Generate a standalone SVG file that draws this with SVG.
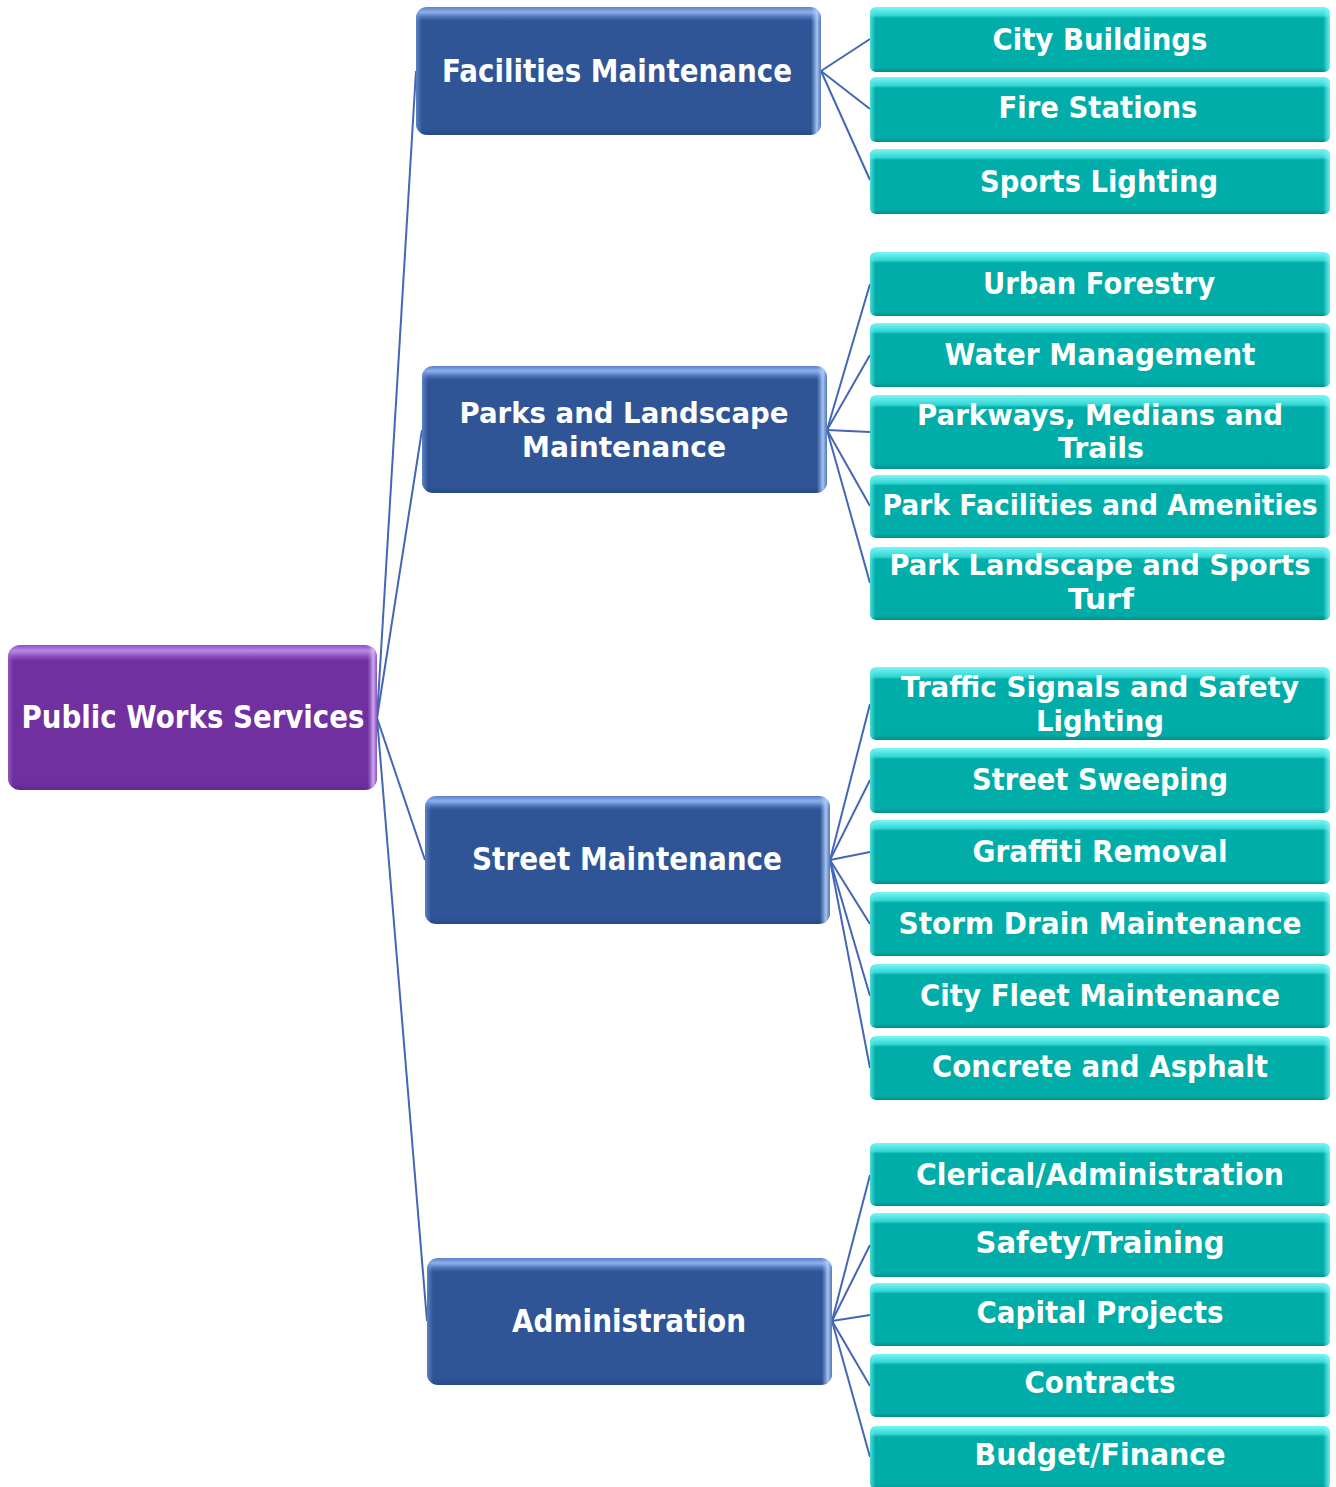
<svg xmlns="http://www.w3.org/2000/svg" width="1336" height="1487" viewBox="0 0 1336 1487">
<defs>
<linearGradient id="gTeal" x1="0" y1="0" x2="0" y2="1">
<stop offset="0" stop-color="#7af7f7"/>
<stop offset="0.13" stop-color="#35d6d3"/>
<stop offset="0.17" stop-color="#00aea9"/>
<stop offset="0.93" stop-color="#00aca7"/>
<stop offset="1" stop-color="#00918d"/>
</linearGradient>
<linearGradient id="gTealSide" x1="0" y1="0" x2="1" y2="0">
<stop offset="0" stop-color="#5fe9e6" stop-opacity="0.8"/>
<stop offset="0.012" stop-color="#5fe9e6" stop-opacity="0"/>
<stop offset="0.985" stop-color="#7ff7f7" stop-opacity="0"/>
<stop offset="1" stop-color="#7ff7f7" stop-opacity="0.9"/>
</linearGradient>
<linearGradient id="gBlue" x1="0" y1="0" x2="0" y2="1">
<stop offset="0" stop-color="#5b80c8"/>
<stop offset="0.04" stop-color="#8fb0ec"/>
<stop offset="0.08" stop-color="#4a70b8"/>
<stop offset="0.11" stop-color="#2f5596"/>
<stop offset="0.95" stop-color="#2f5596"/>
<stop offset="1" stop-color="#27498a"/>
</linearGradient>
<linearGradient id="gBlueSide" x1="0" y1="0" x2="1" y2="0">
<stop offset="0" stop-color="#6f95db" stop-opacity="0.7"/>
<stop offset="0.015" stop-color="#6f95db" stop-opacity="0"/>
<stop offset="0.975" stop-color="#9fc0f5" stop-opacity="0"/>
<stop offset="0.99" stop-color="#b5d0fa" stop-opacity="0.9"/>
<stop offset="1" stop-color="#6f95db" stop-opacity="0.6"/>
</linearGradient>
<linearGradient id="gPurple" x1="0" y1="0" x2="0" y2="1">
<stop offset="0" stop-color="#8a50c0"/>
<stop offset="0.04" stop-color="#b98ae6"/>
<stop offset="0.08" stop-color="#8a4dbf"/>
<stop offset="0.11" stop-color="#7030a0"/>
<stop offset="0.95" stop-color="#7030a0"/>
<stop offset="1" stop-color="#62288f"/>
</linearGradient>
<linearGradient id="gPurpleSide" x1="0" y1="0" x2="1" y2="0">
<stop offset="0" stop-color="#a070d0" stop-opacity="0.6"/>
<stop offset="0.015" stop-color="#a070d0" stop-opacity="0"/>
<stop offset="0.975" stop-color="#c8a0f0" stop-opacity="0"/>
<stop offset="0.99" stop-color="#d8b8f8" stop-opacity="0.9"/>
<stop offset="1" stop-color="#a070d0" stop-opacity="0.6"/>
</linearGradient>
</defs>
<style>
.teal{fill:url(#gTeal);}
.tealS{fill:url(#gTealSide);}
.blue{fill:url(#gBlue);}
.blueS{fill:url(#gBlueSide);}
.purp{fill:url(#gPurple);}
.purpS{fill:url(#gPurpleSide);}
text{font-family:"DejaVu Sans","Noto Sans",sans-serif;font-weight:bold;fill:#ffffff;text-anchor:middle;}
.lf{font-size:30px;}
.two{font-size:29px;}
.l1{font-size:32px;}
.rt{font-size:32px;}
.con line{stroke:#4466b6;stroke-width:2;fill:none;}
</style>
<rect width="1336" height="1487" fill="#ffffff"/>
<g class="con" id="connectors">
<line x1="377" y1="718" x2="416" y2="71"/>
<line x1="377" y1="718" x2="422" y2="430"/>
<line x1="377" y1="718" x2="425" y2="860"/>
<line x1="377" y1="718" x2="427" y2="1321"/>
<line x1="821" y1="71" x2="870" y2="39"/>
<line x1="821" y1="71" x2="870" y2="109"/>
<line x1="821" y1="71" x2="870" y2="180"/>
<line x1="827" y1="430" x2="870" y2="284"/>
<line x1="827" y1="430" x2="870" y2="355"/>
<line x1="827" y1="430" x2="870" y2="432"/>
<line x1="827" y1="430" x2="870" y2="506"/>
<line x1="827" y1="430" x2="870" y2="583"/>
<line x1="830" y1="860" x2="870" y2="704"/>
<line x1="830" y1="860" x2="870" y2="780"/>
<line x1="830" y1="860" x2="870" y2="852"/>
<line x1="830" y1="860" x2="870" y2="924"/>
<line x1="830" y1="860" x2="870" y2="996"/>
<line x1="830" y1="860" x2="870" y2="1068"/>
<line x1="832" y1="1321" x2="870" y2="1175"/>
<line x1="832" y1="1321" x2="870" y2="1245"/>
<line x1="832" y1="1321" x2="870" y2="1315"/>
<line x1="832" y1="1321" x2="870" y2="1386"/>
<line x1="832" y1="1321" x2="870" y2="1457"/>
</g>
<g id="root">
<rect class="purp" x="8" y="645" width="369" height="145" rx="12"/>
<rect class="purpS" x="8" y="645" width="369" height="145" rx="12"/>
<text class="rt" x="193" y="728" textLength="343" lengthAdjust="spacingAndGlyphs">Public Works Services</text>
</g>
<g id="facilities">
<rect class="blue" x="416" y="7" width="405" height="128" rx="11"/>
<rect class="blueS" x="416" y="7" width="405" height="128" rx="11"/>
<text class="l1" x="617" y="82" textLength="350" lengthAdjust="spacingAndGlyphs">Facilities Maintenance</text>
</g>
<g id="parks">
<rect class="blue" x="422" y="366" width="405" height="127" rx="11"/>
<rect class="blueS" x="422" y="366" width="405" height="127" rx="11"/>
<text class="two"><tspan x="624" y="423" textLength="329" lengthAdjust="spacingAndGlyphs">Parks and Landscape</tspan><tspan x="624" y="457" textLength="204" lengthAdjust="spacingAndGlyphs">Maintenance</tspan></text>
</g>
<g id="street">
<rect class="blue" x="425" y="796" width="405" height="128" rx="11"/>
<rect class="blueS" x="425" y="796" width="405" height="128" rx="11"/>
<text class="l1" x="627" y="870" textLength="310" lengthAdjust="spacingAndGlyphs">Street Maintenance</text>
</g>
<g id="administration">
<rect class="blue" x="427" y="1258" width="405" height="127" rx="11"/>
<rect class="blueS" x="427" y="1258" width="405" height="127" rx="11"/>
<text class="l1" x="629" y="1332" textLength="234" lengthAdjust="spacingAndGlyphs">Administration</text>
</g>
<g id="city-buildings">
<rect class="teal" x="870" y="7" width="460" height="65" rx="6"/>
<rect class="tealS" x="870" y="7" width="460" height="65" rx="6"/>
<text class="lf" x="1100" y="50" textLength="215" lengthAdjust="spacingAndGlyphs">City Buildings</text>
</g>
<g id="fire-stations">
<rect class="teal" x="870" y="77" width="460" height="65" rx="6"/>
<rect class="tealS" x="870" y="77" width="460" height="65" rx="6"/>
<text class="lf" x="1098" y="118" textLength="199" lengthAdjust="spacingAndGlyphs">Fire Stations</text>
</g>
<g id="sports-lighting">
<rect class="teal" x="870" y="149" width="460" height="65" rx="6"/>
<rect class="tealS" x="870" y="149" width="460" height="65" rx="6"/>
<text class="lf" x="1099" y="192" textLength="238" lengthAdjust="spacingAndGlyphs">Sports Lighting</text>
</g>
<g id="urban-forestry">
<rect class="teal" x="870" y="252" width="460" height="64" rx="6"/>
<rect class="tealS" x="870" y="252" width="460" height="64" rx="6"/>
<text class="lf" x="1099" y="294" textLength="232" lengthAdjust="spacingAndGlyphs">Urban Forestry</text>
</g>
<g id="water-management">
<rect class="teal" x="870" y="323" width="460" height="64" rx="6"/>
<rect class="tealS" x="870" y="323" width="460" height="64" rx="6"/>
<text class="lf" x="1100" y="365" textLength="311" lengthAdjust="spacingAndGlyphs">Water Management</text>
</g>
<g id="parkways">
<rect class="teal" x="870" y="395" width="460" height="74" rx="6"/>
<rect class="tealS" x="870" y="395" width="460" height="74" rx="6"/>
<text class="two"><tspan x="1100" y="425" textLength="366" lengthAdjust="spacingAndGlyphs">Parkways, Medians and</tspan><tspan x="1101" y="458" textLength="86" lengthAdjust="spacingAndGlyphs">Trails</tspan></text>
</g>
<g id="park-facilities">
<rect class="teal" x="870" y="475" width="460" height="63" rx="6"/>
<rect class="tealS" x="870" y="475" width="460" height="63" rx="6"/>
<text class="two" transform="translate(1100,515) scale(0.85,1)" x="0" y="0" textLength="512" lengthAdjust="spacingAndGlyphs">Park Facilities and Amenities</text>
</g>
<g id="park-landscape">
<rect class="teal" x="870" y="547" width="460" height="73" rx="6"/>
<rect class="tealS" x="870" y="547" width="460" height="73" rx="6"/>
<text class="two"><tspan x="1100" y="575" textLength="421" lengthAdjust="spacingAndGlyphs">Park Landscape and Sports</tspan><tspan x="1101" y="609" textLength="66" lengthAdjust="spacingAndGlyphs">Turf</tspan></text>
</g>
<g id="traffic-signals">
<rect class="teal" x="870" y="667" width="460" height="73" rx="6"/>
<rect class="tealS" x="870" y="667" width="460" height="73" rx="6"/>
<text class="two"><tspan x="1100" y="697" textLength="398" lengthAdjust="spacingAndGlyphs">Traffic Signals and Safety</tspan><tspan x="1100" y="731" textLength="128" lengthAdjust="spacingAndGlyphs">Lighting</tspan></text>
</g>
<g id="street-sweeping">
<rect class="teal" x="870" y="748" width="460" height="65" rx="6"/>
<rect class="tealS" x="870" y="748" width="460" height="65" rx="6"/>
<text class="lf" x="1100" y="790" textLength="256" lengthAdjust="spacingAndGlyphs">Street Sweeping</text>
</g>
<g id="graffiti-removal">
<rect class="teal" x="870" y="820" width="460" height="64" rx="6"/>
<rect class="tealS" x="870" y="820" width="460" height="64" rx="6"/>
<text class="lf" x="1100" y="862" textLength="255" lengthAdjust="spacingAndGlyphs">Graffiti Removal</text>
</g>
<g id="storm-drain">
<rect class="teal" x="870" y="892" width="460" height="64" rx="6"/>
<rect class="tealS" x="870" y="892" width="460" height="64" rx="6"/>
<text class="lf" x="1100" y="934" textLength="403" lengthAdjust="spacingAndGlyphs">Storm Drain Maintenance</text>
</g>
<g id="city-fleet">
<rect class="teal" x="870" y="964" width="460" height="64" rx="6"/>
<rect class="tealS" x="870" y="964" width="460" height="64" rx="6"/>
<text class="lf" x="1100" y="1006" textLength="360" lengthAdjust="spacingAndGlyphs">City Fleet Maintenance</text>
</g>
<g id="concrete-asphalt">
<rect class="teal" x="870" y="1036" width="460" height="64" rx="6"/>
<rect class="tealS" x="870" y="1036" width="460" height="64" rx="6"/>
<text class="lf" x="1100" y="1077" textLength="336" lengthAdjust="spacingAndGlyphs">Concrete and Asphalt</text>
</g>
<g id="clerical">
<rect class="teal" x="870" y="1143" width="460" height="63" rx="6"/>
<rect class="tealS" x="870" y="1143" width="460" height="63" rx="6"/>
<text class="lf" x="1100" y="1185" textLength="368" lengthAdjust="spacingAndGlyphs">Clerical/Administration</text>
</g>
<g id="safety-training">
<rect class="teal" x="870" y="1213" width="460" height="64" rx="6"/>
<rect class="tealS" x="870" y="1213" width="460" height="64" rx="6"/>
<text class="lf" x="1100" y="1253" textLength="249" lengthAdjust="spacingAndGlyphs">Safety/Training</text>
</g>
<g id="capital-projects">
<rect class="teal" x="870" y="1283" width="460" height="63" rx="6"/>
<rect class="tealS" x="870" y="1283" width="460" height="63" rx="6"/>
<text class="lf" x="1100" y="1323" textLength="247" lengthAdjust="spacingAndGlyphs">Capital Projects</text>
</g>
<g id="contracts">
<rect class="teal" x="870" y="1354" width="460" height="63" rx="6"/>
<rect class="tealS" x="870" y="1354" width="460" height="63" rx="6"/>
<text class="lf" x="1100" y="1393" textLength="151" lengthAdjust="spacingAndGlyphs">Contracts</text>
</g>
<g id="budget-finance">
<rect class="teal" x="870" y="1426" width="460" height="63" rx="6"/>
<rect class="tealS" x="870" y="1426" width="460" height="63" rx="6"/>
<text class="lf" x="1100" y="1465" textLength="251" lengthAdjust="spacingAndGlyphs">Budget/Finance</text>
</g>
</svg>
